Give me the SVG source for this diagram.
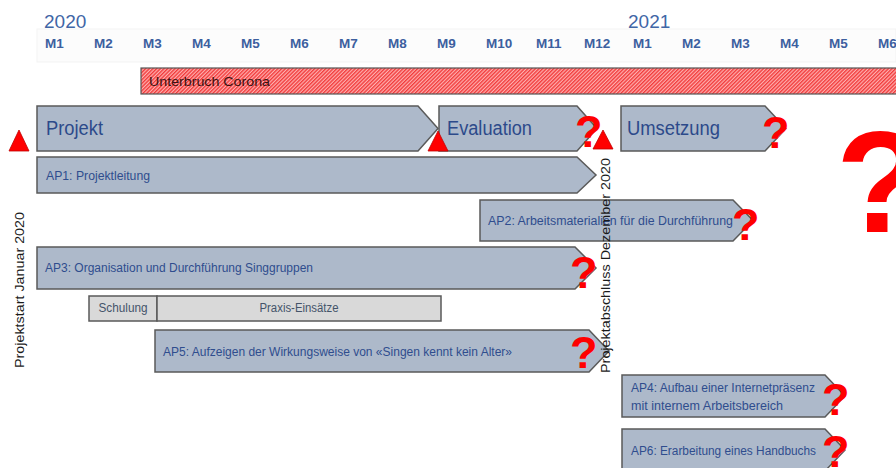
<svg xmlns="http://www.w3.org/2000/svg" width="896" height="468" viewBox="0 0 896 468">
<defs>
<pattern id="hatch" patternUnits="userSpaceOnUse" width="2.6" height="2.6" patternTransform="rotate(45)">
<rect width="2.6" height="2.6" fill="#ffb0b0"/>
<rect width="1.4" height="2.6" fill="#f23c3c"/>
</pattern>
</defs>
<style>
.yr{font-family:"Liberation Sans",Arial,sans-serif;font-size:19px;fill:#3f66a6}
.mo{font-family:"Liberation Sans",Arial,sans-serif;font-size:13.5px;font-weight:bold;fill:#3d5f9f}
.box{fill:#adb9ca;stroke:#5a5a5a;stroke-width:1.5}
.gbox{fill:#d9d9d9;stroke:#5a5a5a;stroke-width:1.5}
.big{font-family:"Liberation Sans",Arial,sans-serif;font-size:20px;fill:#2c4a8a}
.lbl{font-family:"Liberation Sans",Arial,sans-serif;font-size:12px;fill:#2f4d8e}
.glbl{font-family:"Liberation Sans",Arial,sans-serif;font-size:12px;fill:#44546a}
.q{font-family:"Liberation Sans",Arial,sans-serif;font-weight:bold;font-size:45px;fill:#ff0000}
.tri{fill:#ff0000;stroke:#c00000;stroke-width:0.8}
.vt{font-family:"Liberation Sans",Arial,sans-serif;font-size:13px;fill:#1a1a1a}
</style>
<rect width="896" height="468" fill="#ffffff"/>
<g id="header">
<rect x="37" y="29" width="859" height="33" fill="#fcfcfc" stroke="#f3f3f3" stroke-width="1"/>
<text class="yr" x="44" y="28">2020</text>
<text class="yr" x="628" y="28">2021</text>
<text class="mo" x="45" y="48">M1</text>
<text class="mo" x="94" y="48">M2</text>
<text class="mo" x="143" y="48">M3</text>
<text class="mo" x="192" y="48">M4</text>
<text class="mo" x="241" y="48">M5</text>
<text class="mo" x="290" y="48">M6</text>
<text class="mo" x="339" y="48">M7</text>
<text class="mo" x="388" y="48">M8</text>
<text class="mo" x="437" y="48">M9</text>
<text class="mo" x="486" y="48">M10</text>
<text class="mo" x="536" y="48">M11</text>
<text class="mo" x="584" y="48">M12</text>
<text class="mo" x="633" y="48">M1</text>
<text class="mo" x="682" y="48">M2</text>
<text class="mo" x="731" y="48">M3</text>
<text class="mo" x="780" y="48">M4</text>
<text class="mo" x="829" y="48">M5</text>
<text class="mo" x="878" y="48">M6</text>
</g>
<g id="corona">
<rect x="141" y="68" width="760" height="26" fill="url(#hatch)" stroke="#555555" stroke-width="1.2"/>
<text x="149" y="86" font-family="Liberation Sans, Arial, sans-serif" font-size="13" fill="#3a1212" textLength="121" lengthAdjust="spacingAndGlyphs">Unterbruch Corona</text>
</g>
<g id="projekt">
<path class="box" d="M37 106H418L438 128.5L418 151H37Z"/>
<text class="big" x="46" y="135" textLength="57" lengthAdjust="spacingAndGlyphs">Projekt</text>
</g>
<g id="evaluation">
<path class="box" d="M439 106H577L597 128.5L577 151H439Z"/>
<text class="big" x="447" y="135" textLength="85" lengthAdjust="spacingAndGlyphs">Evaluation</text>
<text class="q" x="575" y="147">?</text>
</g>
<g id="umsetzung">
<path class="box" d="M621 106H765L786 128.5L765 151H621Z"/>
<text class="big" x="627" y="135" textLength="93" lengthAdjust="spacingAndGlyphs">Umsetzung</text>
<text class="q" x="762" y="148">?</text>
</g>
<g id="ap1">
<path class="box" d="M37 157H577L596 175L577 193H37Z"/>
<text class="lbl" x="46" y="180" textLength="104" lengthAdjust="spacingAndGlyphs">AP1: Projektleitung</text>
</g>
<g id="ap2">
<path class="box" d="M480 200H733L753 220.5L733 241H480Z"/>
<text class="lbl" x="488" y="225" textLength="245" lengthAdjust="spacingAndGlyphs">AP2: Arbeitsmaterialien für die Durchführung</text>
<text class="q" x="732" y="240">?</text>
</g>
<g id="ap3">
<path class="box" d="M37 247H575L596 268L575 289H37Z"/>
<text class="lbl" x="45" y="272" textLength="268" lengthAdjust="spacingAndGlyphs">AP3: Organisation und Durchführung Singgruppen</text>
<text class="q" x="570" y="288">?</text>
</g>
<g id="schulung">
<rect class="gbox" x="89" y="296" width="68" height="25"/>
<text class="glbl" x="123" y="312" text-anchor="middle" textLength="49" lengthAdjust="spacingAndGlyphs">Schulung</text>
</g>
<g id="praxis">
<rect class="gbox" x="157" y="296" width="284" height="25"/>
<text class="glbl" x="299" y="312" text-anchor="middle" textLength="79" lengthAdjust="spacingAndGlyphs">Praxis-Einsätze</text>
</g>
<g id="ap5">
<path class="box" d="M155 330H589L609 351L589 372H155Z"/>
<text class="lbl" x="163" y="356" textLength="349" lengthAdjust="spacingAndGlyphs">AP5: Aufzeigen der Wirkungsweise von «Singen kennt kein Alter»</text>
<text class="q" x="570" y="368">?</text>
</g>
<g id="ap4">
<path class="box" d="M622 375H825L845 396L825 417H622Z"/>
<text class="lbl" x="631" y="392" textLength="184" lengthAdjust="spacingAndGlyphs">AP4: Aufbau einer Internetpräsenz</text>
<text class="lbl" x="631" y="410" textLength="152" lengthAdjust="spacingAndGlyphs">mit internem Arbeitsbereich</text>
<text class="q" x="822" y="415">?</text>
</g>
<g id="ap6">
<path class="box" d="M622 429H825L845 450L825 471H622Z"/>
<text class="lbl" x="631" y="455" textLength="185" lengthAdjust="spacingAndGlyphs">AP6: Erarbeitung eines Handbuchs</text>
<text class="q" x="822" y="467">?</text>
</g>
<g id="milestone-start">
<polygon class="tri" points="9,151 19,130 29,151"/>
<text class="vt" transform="translate(24,368) rotate(-90)" textLength="156" lengthAdjust="spacingAndGlyphs">Projektstart Januar 2020</text>
</g>
<g id="milestone-mid">
<polygon class="tri" points="428,151 438,131 448,151"/>
</g>
<g id="milestone-end">
<polygon class="tri" points="593,149 603,130 613,149"/>
<text class="vt" transform="translate(610,373) rotate(-90)" textLength="215" lengthAdjust="spacingAndGlyphs">Projektabschluss Dezember 2020</text>
</g>
<g id="big-question">
<text x="836" y="232" font-family="Liberation Sans, Arial, sans-serif" font-weight="bold" font-size="145" fill="#ff0000">?</text>
</g>
</svg>
